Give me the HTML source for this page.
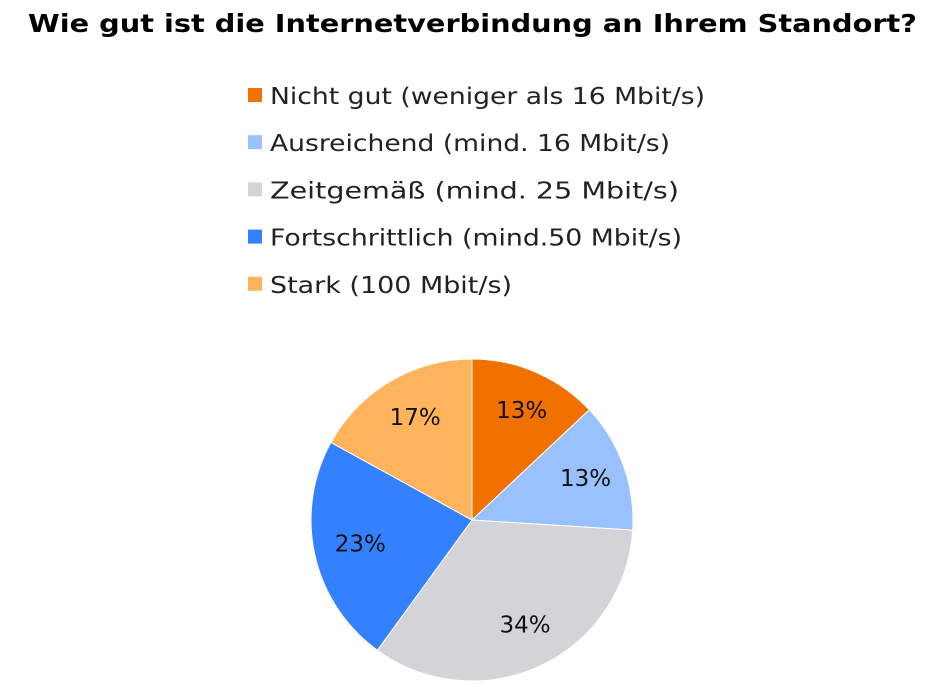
<!DOCTYPE html>
<html><head><meta charset="utf-8"><style>
body{margin:0;background:#fff;width:943px;height:692px;overflow:hidden;font-family:"DejaVu Sans","Liberation Sans",sans-serif;}
</style></head><body>
<svg width="943" height="692">
<text x="28" y="32" textLength="889" lengthAdjust="spacingAndGlyphs" font-size="25" font-weight="bold" fill="#000">Wie gut ist die Internetverbindung an Ihrem Standort?</text>
<g id="legend"></g>
<g id="slices"></g>
</svg>
<script>
const categories=["Nicht gut (weniger als 16 Mbit/s)","Ausreichend (mind. 16 Mbit/s)","Zeitgemäß (mind. 25 Mbit/s)","Fortschrittlich (mind.50 Mbit/s)","Stark (100 Mbit/s)"];
const values=[13,13,34,23,17];
const colors=["#f07000","#99c0ff","#d4d4d8","#3381ff","#ffb35c"];
const legendTextWidths=[435,400,409,412,242];
const ns="http://www.w3.org/2000/svg";
const lg=document.getElementById('legend');
categories.forEach((c,i)=>{
  const y=96+i*47.2;
  const r=document.createElementNS(ns,'rect');
  r.setAttribute('x',248);r.setAttribute('y',y-8);r.setAttribute('width',14);r.setAttribute('height',14);r.setAttribute('fill',colors[i]);
  
  
  lg.appendChild(r);
  const t=document.createElementNS(ns,'text');
  t.setAttribute('x',270);t.setAttribute('y',y+8);t.setAttribute('font-size','23');t.setAttribute('fill','#222');
  t.setAttribute('textLength',legendTextWidths[i]);t.setAttribute('lengthAdjust','spacingAndGlyphs');
  t.textContent=c;
  
  
  lg.appendChild(t);
});
const cx=472,cy=520,R=161;
const total=values.reduce((a,b)=>a+b,0);
let acc=0;
const sg=document.getElementById('slices');
values.forEach((v,i)=>{
  const a0=acc/total*2*Math.PI; acc+=v; const a1=acc/total*2*Math.PI;
  const p=(a)=>[cx+R*Math.sin(a),cy-R*Math.cos(a)];
  const [x0,y0]=p(a0),[x1,y1]=p(a1);
  const large=(a1-a0)>Math.PI?1:0;
  const path=document.createElementNS(ns,'path');
  path.setAttribute('d',`M${cx},${cy}L${x0},${y0}A${R},${R} 0 ${large} 1 ${x1},${y1}Z`);
  path.setAttribute('fill',colors[i]);path.setAttribute('stroke','#fff');path.setAttribute('stroke-width','1');
  
  
  sg.appendChild(path);
  const am=(a0+a1)/2, lr=R*0.73;
  const t=document.createElementNS(ns,'text');
  t.setAttribute('x',cx+lr*Math.sin(am)+3);t.setAttribute('y',cy-lr*Math.cos(am)+6);
  t.setAttribute('text-anchor','middle');t.setAttribute('font-size','23');t.setAttribute('fill','#111');
  t.textContent=Math.round(v/total*100)+'%';
  
  
  sg.appendChild(t);
});
</script>
</body></html>
